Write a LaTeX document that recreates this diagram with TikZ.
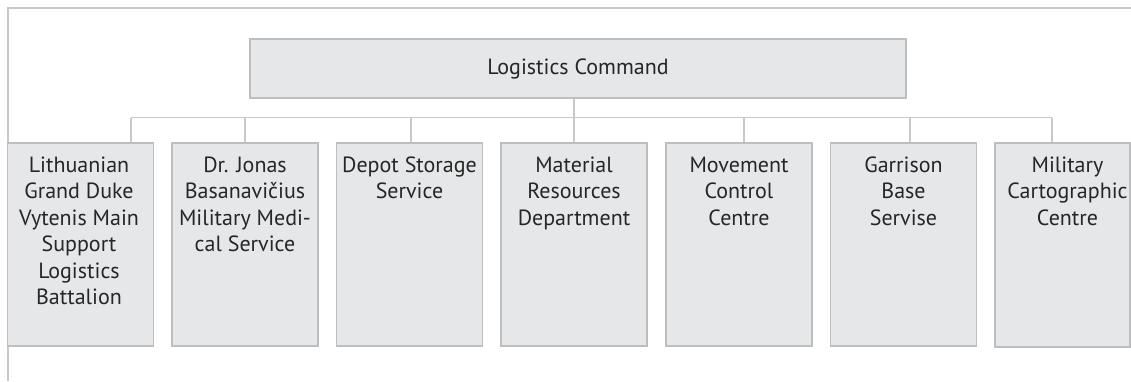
\documentclass[tikz,border=0pt]{standalone}
\usepackage{fontspec}
\setmainfont{PT Sans}
\definecolor{boxfill}{HTML}{E6E7E8}
\definecolor{boxline}{HTML}{BCBEC0}
\definecolor{conn}{HTML}{C8C9CA}
\begin{document}
\begin{tikzpicture}[x=1pt,y=-1pt,
  topbox/.style={draw=boxline,fill=boxfill,line width=1.2pt,minimum width=656pt,minimum height=59pt,inner sep=0pt,
    font=\fontsize{22}{26.5}\selectfont,text=black!85},
  childbox/.style={draw=boxline,fill=boxfill,line width=1.2pt,minimum width=146pt,minimum height=203pt,inner sep=0pt},
  childtext/.style={anchor=north,align=center,inner sep=0pt,font=\fontsize{22}{26.5}\selectfont,text=black!85},
  wire/.style={draw=conn,line width=1.2pt},
  frameline/.style={draw=conn,line width=1.2pt}]
\useasboundingbox (0,0) rectangle (1131,381);
% frame
\coordinate (fa) at (1131,8);
\coordinate (fb) at (8,8);
\coordinate (fc) at (8,381);
\draw[frameline] (fa) -- (fb) -- (fc);
% top box
\node[topbox] (top) at (578,68.5) {Logistics Command};
% children
\node[childbox] (c1) at (80.5,244.5) {};
\node[childbox] (c2) at (245,244.5) {};
\node[childbox] (c3) at (409.5,244.5) {};
\node[childbox] (c4) at (574,244.5) {};
\node[childbox] (c5) at (739,244.5) {};
\node[childbox] (c6) at (903.5,244.5) {};
\node[childbox,minimum width=135pt,minimum height=204pt] (c7) at (1062.5,245) {};
\node[childtext] (t1) at ([xshift=-1.5pt,yshift=-14pt]c1.north) {Lithuanian\\Grand Duke\\Vytenis Main\\Support\\Logistics\\Battalion};
\node[childtext] (t2) at ([yshift=-14pt]c2.north) {Dr. Jonas\\Basanavičius\\Military Medi-\\cal Service};
\node[childtext] (t3) at ([yshift=-14pt]c3.north) {Depot Storage\\Service};
\node[childtext] (t4) at ([yshift=-14pt]c4.north) {Material\\Resources\\Department};
\node[childtext] (t5) at ([yshift=-14pt]c5.north) {Movement\\Control\\Centre};
\node[childtext] (t6) at ([yshift=-14pt]c6.north) {Garrison\\Base\\Servise};
\node[childtext] (t7) at ([xshift=5pt,yshift=-14pt]c7.north) {Military\\Cartographic\\Centre};
% bus
\coordinate (b1) at (131,117.7);
\coordinate (b2) at (245,117.7);
\coordinate (b3) at (411,117.7);
\coordinate (b4) at (574,117.7);
\coordinate (b5) at (744,117.7);
\coordinate (b6) at (910,117.7);
\coordinate (b7) at (1052,117.7);
\draw[wire] (b1) -- (b7);
\draw[wire] (top.south -| b4) -- (b4);
\draw[wire] (b1) -- (b1 |- c1.north);
\draw[wire] (b2) -- (b2 |- c2.north);
\draw[wire] (b3) -- (b3 |- c3.north);
\draw[wire] (b4) -- (b4 |- c4.north);
\draw[wire] (b5) -- (b5 |- c5.north);
\draw[wire] (b6) -- (b6 |- c6.north);
\draw[wire] (b7) -- (b7 |- c7.north);
\end{tikzpicture}
\end{document}
